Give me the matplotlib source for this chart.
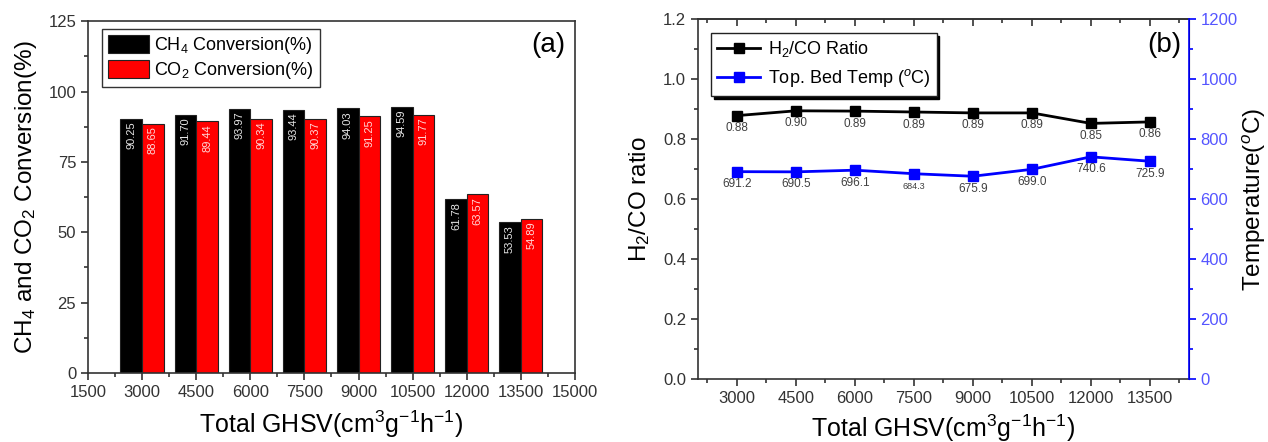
import matplotlib
matplotlib.use("Agg")
import matplotlib.pyplot as plt
from matplotlib.ticker import MultipleLocator, FixedLocator

plt.rcParams['font.family'] = ['Liberation Sans', 'DejaVu Sans']
plt.rcParams['mathtext.fontset'] = 'custom'
plt.rcParams['mathtext.rm'] = 'Liberation Sans'
plt.rcParams['mathtext.it'] = 'Liberation Sans:italic'
plt.rcParams['mathtext.bf'] = 'Liberation Sans:bold'

# data
ghsv = [3000, 4500, 6000, 7500, 9000, 10500, 12000, 13500]
ch4_conv = [90.25, 91.70, 93.97, 93.44, 94.03, 94.59, 61.78, 53.53]
co2_conv = [88.65, 89.44, 90.34, 90.37, 91.25, 91.77, 63.57, 54.89]
h2co_ratio = [0.878, 0.894, 0.893, 0.890, 0.887, 0.887, 0.852, 0.857]
h2co_labels = ["0.88", "0.90", "0.89", "0.89", "0.89", "0.89", "0.85", "0.86"]
bed_temp = [691.2, 690.5, 696.1, 684.3, 675.9, 699.0, 740.6, 725.9]

blue = "#0000ff"
blue_txt = "#5555ff"
xlab = r"Total GHSV(cm$^{3}$g$^{-1}$h$^{-1}$)"

fig = plt.figure(figsize=(12.68, 4.42), dpi=100, facecolor="white")

# ---------------- (a) bar chart ----------------
ax1 = fig.add_axes([0.0694, 0.156, 0.384, 0.796])
w = 600
b1 = ax1.bar([g - w / 2 for g in ghsv], ch4_conv, width=w, color="black",
             edgecolor="#222222", linewidth=0.8, label=r"CH$_4$ Conversion(%)")
b2 = ax1.bar([g + w / 2 for g in ghsv], co2_conv, width=w, color="#ff0000",
             edgecolor="#222222", linewidth=0.8, label=r"CO$_2$ Conversion(%)")
for bar, v in zip(b1, ch4_conv):
    ax1.annotate(f"{v:.2f}", (bar.get_x() + bar.get_width() / 2, v),
                 xytext=(0, -2), textcoords="offset points", rotation=90,
                 ha="center", va="top", fontsize=8, color="#e6e6e6")
for bar, v in zip(b2, co2_conv):
    ax1.annotate(f"{v:.2f}", (bar.get_x() + bar.get_width() / 2, v),
                 xytext=(0, -2), textcoords="offset points", rotation=90,
                 ha="center", va="top", fontsize=8, color="#ffd8d8")

ax1.set_xlim(1500, 15000)
ax1.set_ylim(0, 125)
ax1.xaxis.set_major_locator(MultipleLocator(1500))
ax1.xaxis.set_minor_locator(MultipleLocator(750))
ax1.yaxis.set_major_locator(MultipleLocator(25))
ax1.yaxis.set_minor_locator(MultipleLocator(12.5))
ax1.tick_params(which="both", direction="out", top=False, right=False,
                colors="#333333", labelsize=12)
ax1.tick_params(which="major", length=5, width=1.2)
ax1.tick_params(which="minor", length=3, width=1.2)
for s in ax1.spines.values():
    s.set_color("#333333")
    s.set_linewidth(1.2)
ax1.set_xlabel(xlab, fontsize=18, labelpad=6)
ax1.set_ylabel(r"CH$_4$ and CO$_2$ Conversion(%)", fontsize=17.5, labelpad=7)
ax1.text(0.945, 0.932, "(a)", transform=ax1.transAxes, fontsize=20,
         ha="center", va="center")
leg1 = ax1.legend(loc="upper left", bbox_to_anchor=(0.029, 0.977),
                  borderaxespad=0, fontsize=13, handlelength=2.3,
                  handleheight=1.15, handletextpad=0.3, labelspacing=0.25,
                  borderpad=0.3, fancybox=False, edgecolor="#333333",
                  framealpha=1)
leg1.get_frame().set_linewidth(1)

# ---------------- (b) line chart ----------------
ax2 = fig.add_axes([0.5505, 0.1425, 0.387, 0.8145])
pos = list(range(len(ghsv)))
ax2.plot(pos, h2co_ratio, color="black", marker="s", markersize=7,
         linewidth=2, label=r"H$_2$/CO Ratio")
ax3 = ax2.twinx()
ax3.plot(pos, bed_temp, color=blue, marker="s", markersize=7,
         linewidth=2, label=r"Top. Bed Temp ($^o$C)")

for x, y, t in zip(pos, h2co_ratio, h2co_labels):
    ax2.annotate(t, (x, y), xytext=(0, -9), textcoords="offset points",
                 ha="center", va="center", fontsize=8.5, color="#404040")
for x, y in zip(pos, bed_temp):
    fs = 6.5 if abs(y - 684.3) < 0.01 else 8.5
    ax3.annotate(f"{y:.1f}", (x, y), xytext=(0, -9), textcoords="offset points",
                 ha="center", va="center", fontsize=fs, color="#404040")

ax2.set_xlim(-0.66, 7.66)
ax2.set_ylim(0, 1.2)
ax3.set_ylim(0, 1200)
minor_x = [p - 0.5 for p in pos] + [7.5]
ax2.xaxis.set_major_locator(FixedLocator(pos))
ax2.xaxis.set_minor_locator(FixedLocator(minor_x))
ax2.set_xticklabels([str(g) for g in ghsv])
ax2.yaxis.set_major_locator(MultipleLocator(0.2))
ax2.yaxis.set_minor_locator(MultipleLocator(0.1))
ax3.yaxis.set_major_locator(MultipleLocator(200))
ax3.yaxis.set_minor_locator(MultipleLocator(100))

ax2.tick_params(which="both", direction="out", right=False, top=False,
                colors="#333333", labelsize=12)
ax2.tick_params(which="major", length=5, width=1.2)
ax2.tick_params(which="minor", length=3, width=1.2)

# inward ticks on the top spine
top = ax2.secondary_xaxis("top")
top.xaxis.set_major_locator(FixedLocator(pos))
top.xaxis.set_minor_locator(FixedLocator(minor_x))
top.tick_params(which="both", direction="in", labeltop=False, colors="#333333")
top.tick_params(which="major", length=5, width=1.2)
top.tick_params(which="minor", length=3, width=1.2)
top.spines["top"].set_color("#333333")
top.spines["top"].set_linewidth(1.2)

ax3.tick_params(which="both", direction="out", colors=blue, labelsize=12,
                labelcolor=blue_txt)
ax3.tick_params(which="major", length=5, width=1.2)
ax3.tick_params(which="minor", length=3, width=1.2)
ax3.spines["right"].set_color(blue)
ax3.spines["right"].set_linewidth(1.2)
for k in ("left", "top", "bottom"):
    ax2.spines[k].set_color("#333333")
    ax2.spines[k].set_linewidth(1.2)
    ax3.spines[k].set_visible(False)

ax2.set_xlabel(xlab, fontsize=18, labelpad=5)
ax2.set_ylabel(r"H$_2$/CO ratio", fontsize=17.5, labelpad=8)
ax3.set_ylabel(r"Temperature($^o$C)", fontsize=17.5, labelpad=2)
ax2.text(0.951, 0.928, "(b)", transform=ax2.transAxes, fontsize=20,
         ha="center", va="center")

h1, l1 = ax2.get_legend_handles_labels()
h2, l2 = ax3.get_legend_handles_labels()
leg2 = ax3.legend(h1 + h2, l1 + l2, loc="upper left",
                  bbox_to_anchor=(0.026, 0.961), borderaxespad=0, fontsize=13,
                  handlelength=2.4, handletextpad=0.4, labelspacing=0.45,
                  borderpad=0.35, fancybox=False, edgecolor="#222222",
                  framealpha=1,
                  shadow={"facecolor": "black", "edgecolor": "black", "alpha": 1})
leg2.get_frame().set_linewidth(1)

fig.savefig("out.png", dpi=100, facecolor="white")
